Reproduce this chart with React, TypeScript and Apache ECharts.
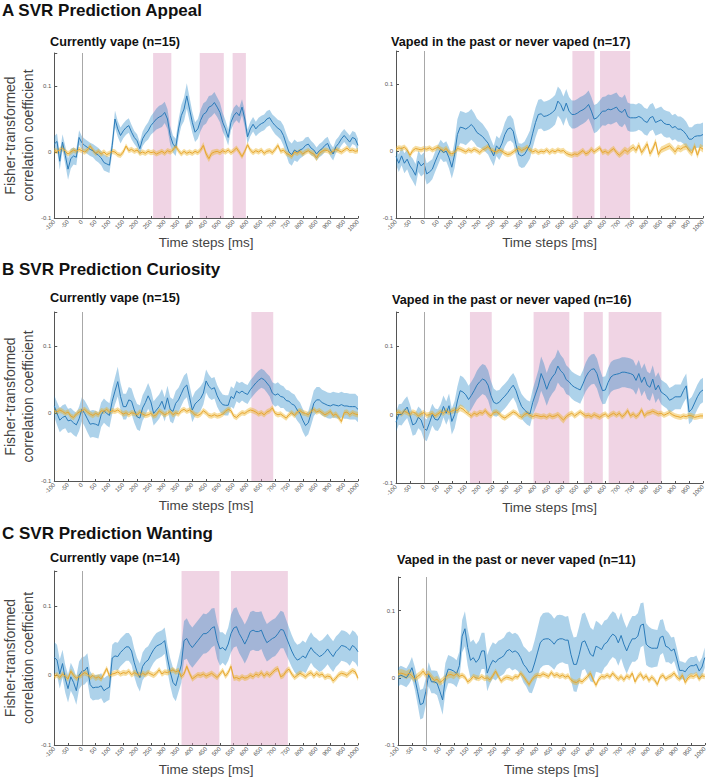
import React, { useEffect, useRef } from "react";
import * as echarts from "echarts";

const timeSteps = [
  -100, -90, -80, -70, -60, -50, -40, -30, -20, -10, 0,
  10, 20, 30, 40, 50, 60, 70, 80, 90, 100,
  110, 120, 130, 140, 150, 160, 170, 180, 190, 200,
  210, 220, 230, 240, 250, 260, 270, 280, 290, 300,
  310, 320, 330, 340, 350, 360, 370, 380, 390, 400,
  410, 420, 430, 440, 450, 460, 470, 480, 490, 500,
  510, 520, 530, 540, 550, 560, 570, 580, 590, 600,
  610, 620, 630, 640, 650, 660, 670, 680, 690, 700,
  710, 720, 730, 740, 750, 760, 770, 780, 790, 800,
  810, 820, 830, 840, 850, 860, 870, 880, 890, 900,
  910, 920, 930, 940, 950, 960, 970, 980, 990, 1000,
];

const yTicks = [-0.1, 0, 0.1];

// ---------- A: Appeal, currently vape (n=15) ----------
const appealVapeBlue = [
  0.012, 0.016, -0.014, 0.015, -0.005, -0.026, -0.010, -0.006, -0.008, 0.022, 0.014,
  0.010, 0.007, 0.004, 0.002, -0.002, -0.005, -0.009, -0.016, -0.018, -0.020,
  0.010, 0.050, 0.035, 0.025, 0.032, 0.037, 0.040, 0.030, 0.022, 0.017,
  0.005, 0.020, 0.027, 0.032, 0.040, 0.045, 0.050, 0.053, 0.055, 0.060,
  0.050, 0.025, 0.012, 0.007, 0.035, 0.055, 0.065, 0.085, 0.065, 0.045,
  0.030, 0.035, 0.048, 0.057, 0.060, 0.068, 0.070, 0.075, 0.068, 0.060,
  0.045, 0.035, 0.022, 0.045, 0.055, 0.060, 0.055, 0.068, 0.050, 0.023,
  0.035, 0.042, 0.035, 0.040, 0.043, 0.045, 0.050, 0.052, 0.045, 0.040,
  0.036, 0.033, 0.025, 0.012, 0.000, -0.004, 0.003, 0.000, 0.003, 0.005,
  0.010, 0.012, 0.006, 0.003, -0.003, 0.002, 0.005, 0.010, 0.013, 0.003,
  -0.003, 0.008, 0.013, 0.020, 0.025, 0.020, 0.015, 0.022, 0.020, 0.010,
];
const appealVapeBlueSem = [
  0.012, 0.012, 0.013, 0.012, 0.014, 0.016, 0.015, 0.013, 0.012, 0.011, 0.010,
  0.010, 0.010, 0.010, 0.010, 0.011, 0.011, 0.011, 0.012, 0.012, 0.012,
  0.012, 0.013, 0.012, 0.012, 0.011, 0.011, 0.011, 0.011, 0.010, 0.010,
  0.010, 0.011, 0.012, 0.013, 0.014, 0.015, 0.016, 0.017, 0.017, 0.016,
  0.015, 0.014, 0.013, 0.013, 0.014, 0.016, 0.018, 0.019, 0.018, 0.016,
  0.015, 0.015, 0.016, 0.017, 0.017, 0.017, 0.016, 0.016, 0.015, 0.015,
  0.014, 0.013, 0.012, 0.012, 0.012, 0.012, 0.012, 0.012, 0.012, 0.011,
  0.011, 0.011, 0.011, 0.012, 0.012, 0.012, 0.012, 0.012, 0.012, 0.013,
  0.013, 0.014, 0.015, 0.016, 0.017, 0.017, 0.016, 0.015, 0.013, 0.012,
  0.012, 0.011, 0.011, 0.010, 0.010, 0.010, 0.010, 0.010, 0.010, 0.010,
  0.010, 0.010, 0.010, 0.010, 0.010, 0.010, 0.010, 0.010, 0.010, 0.010,
];
const appealVapeOrange = [
  0.002, 0.001, 0.003, 0.006, 0.001, -0.003, 0.000, 0.003, 0.001, 0.004, 0.002,
  0.000, 0.003, 0.009, 0.003, -0.002, 0.001, -0.003, 0.000, -0.004, -0.002,
  0.001, 0.000, -0.004, -0.005, 0.000, 0.009, 0.002, 0.004, 0.001, 0.003,
  -0.002, 0.000, -0.002, 0.001, -0.001, 0.000, -0.003, -0.001, 0.001, -0.002,
  0.002, 0.000, 0.003, 0.009, 0.002, -0.003, 0.001, -0.002, 0.000, -0.002,
  0.001, -0.001, 0.003, 0.010, -0.003, -0.010, -0.002, 0.000, 0.001, -0.001,
  0.002, 0.000, 0.003, -0.001, 0.002, 0.006, 0.000, -0.007, 0.001, 0.011,
  0.003, -0.001, 0.002, 0.000, 0.003, -0.002, 0.001, 0.002, -0.001, 0.004,
  0.010, 0.001, 0.003, -0.002, -0.004, -0.007, 0.000, -0.002, 0.001, -0.003,
  0.000, 0.002, -0.001, -0.003, -0.009, -0.002, 0.001, 0.003, 0.002, -0.001,
  0.001, 0.004, 0.002, 0.000, 0.003, 0.006, 0.002, 0.003, 0.001, 0.002,
];
const appealVapeOrangeSem = [
  0.004, 0.004, 0.004, 0.005, 0.004, 0.004, 0.004, 0.004, 0.004, 0.004, 0.004,
  0.004, 0.004, 0.004, 0.004, 0.004, 0.004, 0.004, 0.004, 0.004, 0.004,
  0.004, 0.004, 0.004, 0.004, 0.004, 0.004, 0.004, 0.004, 0.004, 0.004,
  0.004, 0.004, 0.004, 0.004, 0.004, 0.004, 0.004, 0.004, 0.004, 0.004,
  0.004, 0.004, 0.004, 0.004, 0.004, 0.004, 0.004, 0.004, 0.004, 0.004,
  0.004, 0.004, 0.004, 0.005, 0.005, 0.005, 0.005, 0.004, 0.004, 0.004,
  0.004, 0.004, 0.004, 0.004, 0.004, 0.004, 0.004, 0.004, 0.004, 0.004,
  0.004, 0.004, 0.004, 0.004, 0.004, 0.004, 0.004, 0.004, 0.004, 0.004,
  0.004, 0.004, 0.004, 0.004, 0.004, 0.004, 0.004, 0.004, 0.004, 0.004,
  0.004, 0.004, 0.004, 0.005, 0.005, 0.005, 0.004, 0.004, 0.004, 0.004,
  0.004, 0.004, 0.004, 0.004, 0.004, 0.004, 0.004, 0.004, 0.004, 0.004,
];
const appealVapeSig = [[258, 324], [427, 514], [546, 594]];

// ---------- A: Appeal, vaped in the past or never vaped (n=17) ----------
const appealPastBlue = [
  -0.008, -0.018, -0.007, -0.018, -0.012, -0.022, -0.028, -0.036, -0.015, -0.022, -0.018,
  -0.034, -0.031, -0.027, -0.016, -0.006, 0.003, -0.002, 0.000, -0.010, -0.024,
  -0.005, 0.025, 0.036, 0.035, 0.033, 0.036, 0.040, 0.035, 0.028, 0.025,
  0.022, 0.017, 0.012, 0.002, -0.007, 0.008, 0.003, 0.012, 0.025, 0.033,
  0.035, 0.030, 0.010, -0.005, -0.007, -0.005, 0.002, 0.010, 0.027, 0.043,
  0.055, 0.056, 0.052, 0.053, 0.055, 0.058, 0.062, 0.075, 0.070, 0.060,
  0.072, 0.060, 0.055, 0.055, 0.057, 0.060, 0.062, 0.065, 0.070, 0.060,
  0.048, 0.050, 0.055, 0.060, 0.060, 0.063, 0.062, 0.064, 0.066, 0.060,
  0.058, 0.063, 0.052, 0.050, 0.050, 0.050, 0.052, 0.050, 0.045, 0.043,
  0.050, 0.052, 0.043, 0.045, 0.047, 0.042, 0.040, 0.040, 0.035, 0.037,
  0.033, 0.033, 0.030, 0.025, 0.018, 0.018, 0.022, 0.023, 0.023, 0.025,
];
const appealPastBlueSem = [
  0.012, 0.013, 0.014, 0.015, 0.015, 0.016, 0.017, 0.017, 0.016, 0.016, 0.016,
  0.016, 0.016, 0.015, 0.015, 0.015, 0.014, 0.014, 0.015, 0.016, 0.017,
  0.020, 0.023, 0.024, 0.024, 0.024, 0.023, 0.023, 0.022, 0.021, 0.020,
  0.019, 0.018, 0.017, 0.016, 0.015, 0.015, 0.016, 0.017, 0.018, 0.019,
  0.019, 0.018, 0.017, 0.017, 0.018, 0.019, 0.020, 0.021, 0.022, 0.022,
  0.022, 0.022, 0.022, 0.022, 0.022, 0.022, 0.022, 0.022, 0.022, 0.022,
  0.021, 0.021, 0.021, 0.021, 0.021, 0.021, 0.021, 0.021, 0.021, 0.021,
  0.021, 0.021, 0.021, 0.021, 0.022, 0.022, 0.022, 0.022, 0.022, 0.022,
  0.022, 0.022, 0.021, 0.021, 0.021, 0.020, 0.020, 0.020, 0.020, 0.020,
  0.020, 0.020, 0.020, 0.020, 0.020, 0.020, 0.020, 0.019, 0.019, 0.019,
  0.019, 0.019, 0.019, 0.019, 0.018, 0.018, 0.018, 0.018, 0.018, 0.018,
];
const appealPastOrange = [
  0.003, 0.005, 0.004, 0.006, 0.002, -0.006, 0.001, 0.004, 0.003, 0.002, 0.004,
  0.003, 0.005, 0.002, 0.004, 0.006, 0.003, 0.001, 0.004, -0.002, -0.004,
  -0.002, 0.004, 0.003, 0.001, -0.001, 0.002, 0.000, 0.003, 0.001, -0.002,
  0.002, 0.004, 0.007, 0.002, 0.000, -0.001, 0.002, 0.000, -0.003, -0.005,
  -0.004, -0.001, 0.002, 0.004, 0.001, 0.003, 0.006, 0.002, -0.001, 0.001,
  -0.002, 0.000, -0.001, 0.002, -0.002, 0.001, -0.001, 0.002, 0.000, 0.001,
  -0.003, -0.005, -0.006, -0.004, -0.005, -0.002, 0.001, -0.004, -0.002, 0.003,
  -0.001, 0.002, 0.005, -0.002, 0.000, -0.003, 0.001, 0.004, -0.002, -0.006,
  -0.002, 0.002, -0.001, 0.003, 0.006, 0.001, 0.009, -0.002, 0.004, 0.011,
  -0.004, 0.003, 0.014, -0.005, 0.002, 0.004, 0.006, 0.008, 0.004, -0.001,
  0.005, 0.003, 0.006, 0.007, 0.001, -0.003, 0.008, -0.006, 0.006, 0.003,
];
const appealPastOrangeSem = [
  0.004, 0.004, 0.004, 0.004, 0.004, 0.004, 0.004, 0.004, 0.004, 0.004, 0.004,
  0.004, 0.004, 0.004, 0.004, 0.004, 0.004, 0.004, 0.004, 0.004, 0.004,
  0.004, 0.004, 0.004, 0.004, 0.004, 0.004, 0.004, 0.004, 0.004, 0.004,
  0.004, 0.004, 0.004, 0.004, 0.004, 0.004, 0.004, 0.004, 0.004, 0.004,
  0.004, 0.004, 0.004, 0.004, 0.004, 0.004, 0.004, 0.004, 0.004, 0.004,
  0.004, 0.004, 0.004, 0.004, 0.004, 0.004, 0.004, 0.004, 0.004, 0.004,
  0.004, 0.004, 0.004, 0.004, 0.004, 0.004, 0.004, 0.004, 0.004, 0.004,
  0.004, 0.004, 0.004, 0.004, 0.004, 0.004, 0.004, 0.004, 0.004, 0.004,
  0.005, 0.005, 0.005, 0.005, 0.005, 0.005, 0.005, 0.005, 0.005, 0.005,
  0.005, 0.005, 0.005, 0.005, 0.005, 0.005, 0.005, 0.005, 0.005, 0.005,
  0.005, 0.005, 0.005, 0.005, 0.005, 0.005, 0.005, 0.005, 0.005, 0.005,
];
const appealPastSig = [[532, 611], [631, 739]];

// ---------- B: Curiosity, currently vape (n=15) ----------
const curiosityVapeBlue = [
  0.011, 0.000, -0.010, -0.006, -0.004, -0.011, -0.010, -0.014, -0.017, -0.008, 0.006,
  0.000, -0.008, -0.016, -0.015, -0.016, -0.018, -0.002, 0.004, 0.000, -0.003,
  0.018, 0.033, 0.047, 0.025, 0.010, 0.010, 0.020, 0.018, 0.005, -0.005,
  -0.007, 0.008, 0.016, 0.026, 0.017, 0.000, 0.005, 0.010, 0.018, 0.006,
  0.023, 0.006, 0.003, 0.015, 0.020, 0.029, 0.038, 0.042, 0.024, 0.005,
  0.014, 0.018, 0.022, 0.030, 0.048, 0.040, 0.036, 0.038, 0.026, 0.018,
  0.013, 0.012, 0.012, 0.025, 0.022, 0.033, 0.030, 0.033, 0.030, 0.028,
  0.035, 0.040, 0.045, 0.049, 0.052, 0.050, 0.045, 0.040, 0.030, 0.027,
  0.029, 0.025, 0.024, 0.019, 0.018, 0.014, 0.012, 0.005, 0.000, -0.010,
  -0.018, -0.014, 0.000, 0.015, 0.020, 0.020, 0.016, 0.014, 0.012, 0.011,
  0.013, 0.012, 0.011, 0.013, 0.011, 0.011, 0.010, 0.010, 0.010, 0.006,
];
const curiosityVapeBlueSem = [
  0.016, 0.017, 0.018, 0.018, 0.018, 0.018, 0.018, 0.018, 0.018, 0.018, 0.018,
  0.019, 0.020, 0.020, 0.020, 0.020, 0.019, 0.018, 0.018, 0.018, 0.018,
  0.019, 0.020, 0.022, 0.020, 0.019, 0.019, 0.019, 0.019, 0.019, 0.019,
  0.019, 0.019, 0.019, 0.019, 0.018, 0.018, 0.018, 0.018, 0.018, 0.018,
  0.018, 0.018, 0.018, 0.018, 0.018, 0.018, 0.018, 0.018, 0.018, 0.018,
  0.018, 0.018, 0.018, 0.017, 0.017, 0.017, 0.016, 0.016, 0.016, 0.016,
  0.015, 0.015, 0.015, 0.015, 0.015, 0.015, 0.015, 0.014, 0.014, 0.014,
  0.014, 0.014, 0.014, 0.014, 0.014, 0.014, 0.014, 0.015, 0.016, 0.017,
  0.017, 0.017, 0.016, 0.016, 0.016, 0.016, 0.016, 0.016, 0.016, 0.017,
  0.017, 0.017, 0.018, 0.019, 0.019, 0.019, 0.019, 0.019, 0.019, 0.019,
  0.019, 0.019, 0.019, 0.019, 0.019, 0.019, 0.019, 0.019, 0.019, 0.019,
];
const curiosityVapeOrange = [
  0.004, 0.002, 0.005, 0.003, 0.000, 0.002, -0.004, -0.006, -0.001, 0.002, 0.004,
  0.006, 0.002, -0.001, -0.003, 0.000, -0.002, 0.004, 0.003, 0.006, 0.002,
  0.004, 0.003, 0.005, 0.002, -0.001, 0.001, -0.002, 0.001, 0.000, -0.002,
  0.002, -0.001, -0.003, -0.002, 0.000, -0.004, -0.002, 0.004, 0.001, -0.002,
  0.000, 0.003, -0.002, 0.001, -0.001, 0.004, 0.006, 0.003, 0.005, 0.002,
  -0.002, -0.003, -0.001, 0.004, 0.001, -0.003, -0.004, -0.002, -0.004, -0.003,
  -0.001, 0.003, 0.006, 0.004, -0.004, -0.006, -0.002, 0.001, 0.000, 0.003,
  0.005, 0.004, 0.002, -0.001, 0.001, -0.002, 0.002, 0.004, 0.008, 0.000,
  -0.002, -0.001, -0.004, -0.007, -0.002, 0.001, -0.003, 0.002, 0.004, 0.001,
  0.000, -0.002, 0.003, 0.006, 0.002, 0.004, 0.001, -0.002, 0.000, 0.003,
  -0.003, -0.001, -0.006, -0.012, 0.001, 0.002, -0.002, 0.001, -0.001, -0.002,
];
const curiosityVapeOrangeSem = [
  0.004, 0.004, 0.004, 0.004, 0.004, 0.004, 0.004, 0.004, 0.004, 0.004, 0.004,
  0.004, 0.004, 0.004, 0.004, 0.004, 0.004, 0.004, 0.004, 0.004, 0.004,
  0.004, 0.004, 0.004, 0.004, 0.004, 0.004, 0.004, 0.004, 0.004, 0.004,
  0.004, 0.004, 0.004, 0.004, 0.004, 0.004, 0.004, 0.004, 0.004, 0.004,
  0.004, 0.004, 0.004, 0.004, 0.004, 0.004, 0.004, 0.004, 0.004, 0.004,
  0.004, 0.004, 0.004, 0.004, 0.004, 0.004, 0.004, 0.004, 0.004, 0.004,
  0.004, 0.004, 0.004, 0.004, 0.004, 0.004, 0.004, 0.004, 0.004, 0.004,
  0.004, 0.004, 0.004, 0.004, 0.004, 0.004, 0.004, 0.004, 0.004, 0.004,
  0.004, 0.004, 0.004, 0.004, 0.004, 0.004, 0.004, 0.004, 0.004, 0.004,
  0.004, 0.004, 0.004, 0.004, 0.004, 0.004, 0.004, 0.004, 0.004, 0.004,
  0.004, 0.004, 0.004, 0.004, 0.004, 0.004, 0.004, 0.004, 0.004, 0.004,
];
const curiosityVapeSig = [[614, 693]];

// ---------- B: Curiosity, vaped in the past or never vaped (n=16) ----------
const curiosityPastBlue = [
  -0.011, 0.000, 0.000, 0.006, 0.011, -0.001, -0.015, -0.013, -0.004, -0.008, -0.020,
  -0.023, -0.012, 0.000, -0.007, -0.008, -0.001, 0.012, 0.002, 0.013, -0.010,
  0.000, 0.020, 0.035, 0.033, 0.029, 0.022, 0.028, 0.035, 0.043, 0.048,
  0.052, 0.050, 0.043, 0.028, 0.018, 0.016, 0.018, 0.023, 0.027, 0.032,
  0.038, 0.043, 0.035, 0.022, 0.012, 0.007, 0.003, 0.001, 0.018, 0.030,
  0.042, 0.060, 0.050, 0.037, 0.048, 0.055, 0.060, 0.071, 0.064, 0.060,
  0.051, 0.048, 0.043, 0.040, 0.038, 0.036, 0.045, 0.055, 0.062, 0.066,
  0.067, 0.060, 0.046, 0.035, 0.036, 0.047, 0.055, 0.058, 0.059, 0.060,
  0.062, 0.062, 0.061, 0.060, 0.058, 0.050, 0.060, 0.047, 0.055, 0.043,
  0.040, 0.052, 0.036, 0.043, 0.033, 0.030, 0.027, 0.021, 0.023, 0.026,
  0.026, 0.026, 0.035, 0.042, 0.004, 0.008, 0.017, 0.026, 0.033, 0.036,
];
const curiosityPastBlueSem = [
  0.014, 0.015, 0.016, 0.016, 0.016, 0.016, 0.016, 0.016, 0.016, 0.016, 0.016,
  0.016, 0.016, 0.016, 0.016, 0.016, 0.016, 0.016, 0.017, 0.018, 0.019,
  0.020, 0.021, 0.022, 0.022, 0.021, 0.020, 0.020, 0.020, 0.021, 0.022,
  0.022, 0.022, 0.022, 0.021, 0.020, 0.019, 0.018, 0.018, 0.018, 0.018,
  0.018, 0.018, 0.018, 0.018, 0.018, 0.018, 0.018, 0.018, 0.019, 0.021,
  0.023, 0.025, 0.025, 0.024, 0.024, 0.024, 0.024, 0.024, 0.023, 0.022,
  0.021, 0.020, 0.020, 0.020, 0.020, 0.020, 0.020, 0.021, 0.022, 0.022,
  0.022, 0.022, 0.021, 0.020, 0.020, 0.021, 0.022, 0.022, 0.022, 0.022,
  0.022, 0.022, 0.022, 0.022, 0.022, 0.021, 0.020, 0.020, 0.020, 0.020,
  0.020, 0.020, 0.019, 0.019, 0.018, 0.018, 0.018, 0.018, 0.018, 0.018,
  0.018, 0.018, 0.018, 0.018, 0.018, 0.018, 0.018, 0.018, 0.018, 0.018,
];
const curiosityPastOrange = [
  0.002, 0.004, 0.001, 0.005, 0.003, 0.000, 0.004, 0.002, -0.002, 0.001, 0.003,
  -0.001, 0.000, 0.002, -0.002, 0.001, 0.004, 0.002, 0.006, 0.003, 0.005,
  0.007, 0.006, 0.010, 0.008, 0.004, 0.001, -0.002, 0.002, 0.000, 0.003,
  0.002, 0.006, 0.001, -0.002, 0.003, 0.004, 0.001, -0.003, -0.005, -0.002,
  0.001, 0.004, 0.002, -0.002, -0.004, 0.000, 0.002, -0.001, -0.003, -0.001,
  -0.002, -0.003, -0.002, -0.004, -0.001, -0.003, -0.002, 0.000, -0.004, -0.008,
  -0.003, 0.000, 0.002, -0.002, 0.001, 0.004, 0.001, -0.002, -0.001, -0.003,
  0.000, -0.002, -0.004, -0.001, 0.001, -0.003, 0.000, 0.002, -0.001, 0.002,
  -0.003, 0.000, 0.006, -0.002, 0.001, -0.003, 0.000, 0.007, -0.002, 0.002,
  0.003, 0.005, 0.003, 0.001, 0.002, -0.001, 0.001, 0.003, 0.000, -0.002,
  -0.003, -0.004, -0.002, -0.003, -0.001, -0.002, -0.004, -0.003, -0.002, -0.002,
];
const curiosityPastOrangeSem = [
  0.004, 0.004, 0.004, 0.004, 0.004, 0.004, 0.004, 0.004, 0.004, 0.004, 0.004,
  0.004, 0.004, 0.004, 0.004, 0.004, 0.004, 0.004, 0.004, 0.004, 0.004,
  0.004, 0.004, 0.005, 0.005, 0.004, 0.004, 0.004, 0.004, 0.004, 0.004,
  0.004, 0.004, 0.004, 0.004, 0.004, 0.004, 0.004, 0.004, 0.004, 0.004,
  0.004, 0.004, 0.004, 0.004, 0.004, 0.004, 0.004, 0.004, 0.004, 0.004,
  0.004, 0.004, 0.004, 0.004, 0.004, 0.004, 0.004, 0.004, 0.005, 0.005,
  0.004, 0.004, 0.004, 0.004, 0.004, 0.004, 0.004, 0.004, 0.004, 0.004,
  0.004, 0.004, 0.004, 0.004, 0.004, 0.004, 0.004, 0.004, 0.004, 0.004,
  0.004, 0.004, 0.004, 0.004, 0.004, 0.004, 0.004, 0.004, 0.004, 0.004,
  0.004, 0.004, 0.004, 0.004, 0.004, 0.004, 0.004, 0.004, 0.004, 0.004,
  0.004, 0.004, 0.004, 0.004, 0.004, 0.004, 0.004, 0.004, 0.004, 0.004,
];
const curiosityPastSig = [[165, 243], [393, 521], [573, 641], [662, 851]];

// ---------- C: Wanting, currently vape (n=14) ----------
const wantingVapeBlue = [
  0.026, 0.022, 0.002, 0.017, -0.005, -0.019, -0.002, -0.010, -0.022, 0.000, 0.006,
  0.007, 0.012, -0.013, -0.018, -0.017, -0.017, -0.015, -0.022, -0.019, -0.017,
  0.025, 0.028, 0.027, 0.033, 0.037, 0.041, 0.041, 0.035, 0.018, 0.005,
  -0.003, 0.013, 0.019, 0.022, 0.030, 0.037, 0.042, 0.044, 0.046, 0.050,
  0.025, 0.005, -0.010, -0.015, 0.000, 0.015, 0.050, 0.053, 0.045, 0.040,
  0.045, 0.050, 0.055, 0.060, 0.060, 0.063, 0.068, 0.070, 0.050, 0.038,
  0.040, 0.036, 0.045, 0.060, 0.068, 0.070, 0.060, 0.053, 0.045, 0.053,
  0.063, 0.065, 0.063, 0.063, 0.065, 0.055, 0.047, 0.050, 0.053, 0.055,
  0.060, 0.066, 0.065, 0.055, 0.045, 0.035, 0.027, 0.022, 0.024, 0.028,
  0.025, 0.033, 0.040, 0.034, 0.031, 0.027, 0.029, 0.033, 0.038, 0.032,
  0.027, 0.034, 0.038, 0.043, 0.042, 0.040, 0.036, 0.043, 0.040, 0.034,
];
const wantingVapeBlueSem = [
  0.022, 0.022, 0.021, 0.020, 0.020, 0.020, 0.020, 0.020, 0.020, 0.020, 0.020,
  0.020, 0.020, 0.019, 0.018, 0.018, 0.018, 0.018, 0.018, 0.018, 0.018,
  0.019, 0.020, 0.020, 0.020, 0.020, 0.020, 0.020, 0.020, 0.020, 0.020,
  0.020, 0.020, 0.020, 0.020, 0.019, 0.019, 0.019, 0.019, 0.019, 0.019,
  0.019, 0.020, 0.021, 0.022, 0.024, 0.026, 0.028, 0.029, 0.029, 0.029,
  0.029, 0.029, 0.029, 0.029, 0.028, 0.028, 0.028, 0.027, 0.026, 0.024,
  0.022, 0.022, 0.024, 0.027, 0.028, 0.028, 0.028, 0.028, 0.028, 0.028,
  0.028, 0.028, 0.028, 0.028, 0.027, 0.027, 0.027, 0.027, 0.027, 0.027,
  0.027, 0.027, 0.026, 0.025, 0.024, 0.023, 0.022, 0.022, 0.022, 0.022,
  0.022, 0.022, 0.022, 0.022, 0.022, 0.022, 0.022, 0.022, 0.022, 0.022,
  0.022, 0.022, 0.022, 0.022, 0.022, 0.022, 0.022, 0.022, 0.022, 0.022,
];
const wantingVapeOrange = [
  -0.002, 0.001, -0.003, 0.002, -0.001, -0.005, 0.006, 0.000, -0.004, -0.002, 0.001,
  0.004, 0.002, -0.003, 0.000, -0.004, -0.002, -0.005, 0.002, 0.010, -0.001,
  0.002, 0.003, 0.005, 0.002, 0.004, 0.003, 0.006, 0.001, 0.004, 0.002,
  0.000, 0.003, 0.001, 0.004, 0.002, 0.000, 0.003, 0.008, 0.002, 0.005,
  0.004, 0.006, 0.008, 0.005, 0.007, -0.002, 0.002, 0.013, 0.003, -0.005,
  -0.002, 0.001, 0.000, 0.002, -0.001, 0.001, 0.003, 0.000, -0.003, 0.002,
  0.007, -0.001, 0.004, 0.013, -0.004, -0.003, -0.005, -0.002, -0.004, -0.003,
  0.000, -0.002, 0.002, 0.000, 0.004, -0.001, 0.003, 0.000, 0.004, 0.008,
  0.010, -0.002, 0.000, 0.006, 0.009, 0.002, -0.003, 0.000, 0.003, 0.001,
  -0.002, 0.002, 0.004, -0.001, 0.003, 0.000, 0.002, -0.003, -0.001, -0.002,
  -0.008, -0.004, 0.001, 0.003, 0.002, 0.000, 0.004, 0.007, 0.005, -0.004,
];
const wantingVapeOrangeSem = [
  0.004, 0.004, 0.004, 0.004, 0.004, 0.004, 0.004, 0.004, 0.004, 0.004, 0.004,
  0.004, 0.004, 0.004, 0.004, 0.004, 0.004, 0.004, 0.004, 0.004, 0.004,
  0.004, 0.004, 0.004, 0.004, 0.004, 0.004, 0.004, 0.004, 0.004, 0.004,
  0.004, 0.004, 0.004, 0.004, 0.004, 0.004, 0.004, 0.004, 0.004, 0.004,
  0.004, 0.004, 0.004, 0.004, 0.004, 0.004, 0.004, 0.004, 0.004, 0.004,
  0.004, 0.004, 0.004, 0.004, 0.004, 0.004, 0.004, 0.004, 0.004, 0.004,
  0.004, 0.004, 0.004, 0.004, 0.004, 0.004, 0.004, 0.004, 0.004, 0.004,
  0.004, 0.004, 0.004, 0.004, 0.004, 0.004, 0.004, 0.004, 0.004, 0.004,
  0.004, 0.004, 0.004, 0.004, 0.004, 0.004, 0.004, 0.004, 0.004, 0.004,
  0.004, 0.004, 0.004, 0.004, 0.004, 0.004, 0.004, 0.004, 0.004, 0.004,
  0.004, 0.004, 0.004, 0.004, 0.004, 0.004, 0.004, 0.004, 0.004, 0.004,
];
const wantingVapeSig = [[361, 498], [540, 746]];

// ---------- C: Wanting, vaped in the past or never vaped (n=11) ----------
const wantingPastBlue = [
  0.001, 0.004, 0.002, 0.000, 0.006, 0.015, 0.000, -0.020, -0.040, -0.038, -0.020,
  0.005, -0.006, -0.006, -0.008, -0.020, -0.033, 0.000, 0.013, 0.012, 0.010,
  0.006, 0.018, 0.062, 0.073, 0.045, 0.026, 0.030, 0.023, 0.028, 0.040,
  0.040, 0.007, 0.018, 0.026, 0.023, 0.028, 0.030, 0.033, 0.040, 0.042,
  0.038, 0.040, 0.037, 0.030, 0.020, 0.015, 0.008, 0.009, 0.022, 0.037,
  0.052, 0.057, 0.058, 0.058, 0.055, 0.050, 0.056, 0.058, 0.058, 0.056,
  0.056, 0.035, 0.020, 0.020, 0.035, 0.053, 0.055, 0.045, 0.035, 0.032,
  0.047, 0.045, 0.042, 0.050, 0.053, 0.060, 0.065, 0.062, 0.052, 0.063,
  0.050, 0.040, 0.050, 0.058, 0.058, 0.062, 0.078, 0.080, 0.050, 0.046,
  0.044, 0.044, 0.044, 0.060, 0.062, 0.047, 0.045, 0.040, 0.043, 0.028,
  0.011, 0.011, 0.009, 0.015, 0.018, 0.018, 0.020, 0.010, 0.016, 0.030,
];
const wantingPastBlueSem = [
  0.014, 0.014, 0.014, 0.014, 0.015, 0.016, 0.017, 0.019, 0.022, 0.022, 0.020,
  0.018, 0.017, 0.017, 0.018, 0.020, 0.022, 0.022, 0.021, 0.020, 0.020,
  0.020, 0.021, 0.024, 0.026, 0.027, 0.027, 0.027, 0.027, 0.027, 0.027,
  0.027, 0.027, 0.027, 0.027, 0.027, 0.027, 0.027, 0.027, 0.027, 0.027,
  0.027, 0.027, 0.027, 0.027, 0.027, 0.028, 0.030, 0.032, 0.034, 0.036,
  0.038, 0.039, 0.039, 0.039, 0.039, 0.038, 0.037, 0.036, 0.035, 0.035,
  0.036, 0.038, 0.040, 0.041, 0.042, 0.042, 0.042, 0.041, 0.040, 0.039,
  0.038, 0.037, 0.036, 0.035, 0.034, 0.034, 0.034, 0.034, 0.034, 0.034,
  0.034, 0.034, 0.034, 0.034, 0.034, 0.034, 0.033, 0.032, 0.031, 0.030,
  0.029, 0.028, 0.027, 0.026, 0.025, 0.024, 0.022, 0.020, 0.018, 0.016,
  0.014, 0.013, 0.013, 0.013, 0.013, 0.013, 0.013, 0.013, 0.014, 0.015,
];
const wantingPastOrange = [
  0.005, 0.007, 0.006, 0.004, 0.007, 0.003, -0.002, 0.002, 0.005, 0.010, 0.004,
  0.006, 0.001, -0.004, -0.002, -0.007, -0.004, 0.000, 0.004, 0.005, 0.003,
  0.006, 0.002, 0.004, 0.001, -0.006, -0.003, 0.002, 0.000, -0.001, 0.002,
  -0.001, 0.000, -0.003, 0.003, 0.010, 0.002, -0.005, -0.001, 0.001, 0.000,
  -0.002, 0.002, 0.001, 0.007, 0.002, -0.004, -0.010, -0.003, 0.002, 0.004,
  0.003, 0.006, 0.004, 0.002, 0.008, 0.003, 0.005, 0.002, 0.004, 0.001,
  0.003, -0.003, -0.006, -0.007, -0.004, -0.006, -0.002, 0.002, 0.007, -0.003,
  -0.011, -0.002, 0.002, 0.001, 0.004, 0.001, 0.007, 0.002, -0.002, 0.002,
  -0.003, 0.003, 0.000, 0.007, -0.006, 0.002, 0.006, -0.001, 0.003, -0.004,
  0.001, -0.003, -0.010, 0.001, 0.004, -0.002, 0.001, 0.003, 0.007, 0.001,
  -0.002, 0.004, -0.007, 0.000, 0.003, 0.002, 0.005, -0.002, 0.003, 0.002,
];
const wantingPastOrangeSem = [
  0.006, 0.006, 0.006, 0.006, 0.006, 0.006, 0.005, 0.005, 0.005, 0.005, 0.005,
  0.005, 0.005, 0.005, 0.005, 0.005, 0.005, 0.005, 0.005, 0.005, 0.005,
  0.004, 0.004, 0.004, 0.004, 0.004, 0.004, 0.004, 0.004, 0.004, 0.004,
  0.004, 0.004, 0.004, 0.004, 0.004, 0.004, 0.004, 0.004, 0.004, 0.004,
  0.004, 0.004, 0.004, 0.004, 0.004, 0.004, 0.004, 0.004, 0.004, 0.004,
  0.004, 0.004, 0.004, 0.004, 0.004, 0.004, 0.004, 0.004, 0.004, 0.004,
  0.004, 0.004, 0.004, 0.004, 0.004, 0.004, 0.004, 0.004, 0.004, 0.004,
  0.004, 0.004, 0.004, 0.004, 0.004, 0.004, 0.004, 0.004, 0.004, 0.004,
  0.004, 0.004, 0.004, 0.004, 0.004, 0.004, 0.004, 0.004, 0.004, 0.004,
  0.004, 0.004, 0.004, 0.004, 0.004, 0.004, 0.004, 0.004, 0.004, 0.004,
  0.004, 0.004, 0.004, 0.004, 0.004, 0.004, 0.004, 0.004, 0.004, 0.004,
];
const wantingPastSig: number[][] = [];

// ---------- styling ----------
const FONT = '"Liberation Sans", Arial, Helvetica, sans-serif';
const BLUE = "#2b7bb9";
const BLUE_BAND = "rgba(0, 114, 189, 0.32)";
const ORANGE = "#e6a52e";
const ORANGE_BAND = "rgba(237, 177, 32, 0.42)";
const PINK = "rgba(222, 160, 196, 0.45)";
const AXIS_COLOR = "#555";
const ZERO_LINE = "#a8a8a8";
const Y_TITLE = "Fisher-transformed\ncorrelation coefficient";
const X_TITLE = "Time steps [ms]";

const panels = [
  { subtitle: "Currently vape (n=15)", blue: appealVapeBlue, blueSem: appealVapeBlueSem, orange: appealVapeOrange, orangeSem: appealVapeOrangeSem, sig: appealVapeSig,
    grid: { left: 52, top: 53, width: 306, height: 165 }, sub: { left: 50, top: 35 }, yTitle: true },
  { subtitle: "Vaped in the past or never vaped (n=17)", blue: appealPastBlue, blueSem: appealPastBlueSem, orange: appealPastOrange, orangeSem: appealPastOrangeSem, sig: appealPastSig,
    grid: { left: 396, top: 51, width: 307, height: 167 }, sub: { left: 391, top: 35 }, yTitle: false },
  { subtitle: "Currently vape (n=15)", blue: curiosityVapeBlue, blueSem: curiosityVapeBlueSem, orange: curiosityVapeOrange, orangeSem: curiosityVapeOrangeSem, sig: curiosityVapeSig,
    grid: { left: 52, top: 312, width: 306, height: 169 }, sub: { left: 50, top: 291 }, yTitle: true },
  { subtitle: "Vaped in the past or never vaped (n=16)", blue: curiosityPastBlue, blueSem: curiosityPastBlueSem, orange: curiosityPastOrange, orangeSem: curiosityPastOrangeSem, sig: curiosityPastSig,
    grid: { left: 396, top: 312, width: 307, height: 171 }, sub: { left: 392, top: 293 }, yTitle: false },
  { subtitle: "Currently vape (n=14)", blue: wantingVapeBlue, blueSem: wantingVapeBlueSem, orange: wantingVapeOrange, orangeSem: wantingVapeOrangeSem, sig: wantingVapeSig,
    grid: { left: 51, top: 571, width: 307, height: 174 }, sub: { left: 50, top: 551 }, yTitle: true },
  { subtitle: "Vaped in the past or never vaped (n=11)", blue: wantingPastBlue, blueSem: wantingPastBlueSem, orange: wantingPastOrange, orangeSem: wantingPastOrangeSem, sig: wantingPastSig,
    grid: { left: 398, top: 577, width: 308, height: 168 }, sub: { left: 397, top: 553 }, yTitle: false },
];

const sections = [
  { text: "A SVR Prediction Appeal", top: 1.5 },
  { text: "B SVR Prediction Curiosity", top: 260.5 },
  { text: "C SVR Prediction Wanting", top: 525 },
];

function bandSeries(i: number, mean: number[], sem: number[], color: string, z: number) {
  return {
    type: "custom",
    xAxisIndex: i,
    yAxisIndex: i,
    z,
    silent: true,
    data: timeSteps.map((t, k) => [t, mean[k]]),
    encode: { x: 0, y: 1 },
    renderItem: (params: any, api: any) => {
      if (params.dataIndex !== 0) return null;
      const upper: number[][] = [];
      const lower: number[][] = [];
      for (let k = 0; k < timeSteps.length; k++) {
        upper.push(api.coord([timeSteps[k], mean[k] + sem[k]]));
        lower.push(api.coord([timeSteps[k], mean[k] - sem[k]]));
      }
      return {
        type: "polygon",
        shape: { points: upper.concat(lower.reverse()) },
        style: { fill: color },
        silent: true,
      };
    },
  };
}

function buildOption() {
  const grid = panels.map((p) => ({ ...p.grid, containLabel: false }));
  const xAxis = panels.map((p, i) => ({
    type: "value",
    gridIndex: i,
    min: -100,
    max: 1000,
    interval: 50,
    name: X_TITLE,
    nameLocation: "middle",
    nameGap: 16,
    nameTextStyle: { fontSize: 13.5, color: "#444", fontFamily: FONT },
    axisLine: { show: true, onZero: false, lineStyle: { color: AXIS_COLOR, width: 1 } },
    axisTick: { show: true, inside: true, length: 2, lineStyle: { color: AXIS_COLOR } },
    axisLabel: {
      rotate: 45,
      fontSize: 6,
      color: "#555",
      margin: 3,
      fontFamily: FONT,
      formatter: (v: number) => String(v),
    },
    splitLine: { show: false },
  }));
  const yAxis = panels.map((p, i) => ({
    type: "value",
    gridIndex: i,
    min: -0.1,
    max: 0.15,
    interval: 0.1,
    name: p.yTitle ? Y_TITLE : "",
    nameLocation: "middle",
    nameRotate: 90,
    nameGap: 13,
    nameTextStyle: { fontSize: 14, color: "#444", lineHeight: 18, fontFamily: FONT },
    axisLine: { show: true, onZero: false, lineStyle: { color: AXIS_COLOR, width: 1 } },
    axisTick: { show: true, inside: true, length: 3, lineStyle: { color: AXIS_COLOR } },
    axisLabel: {
      fontSize: 6,
      color: "#555",
      margin: 3,
      fontFamily: FONT,
      customValues: yTicks,
      formatter: (v: number) => (Math.abs(v) < 1e-9 ? "0" : String(Math.round(v * 10) / 10)),
    },
    splitLine: { show: false },
  }));

  const series: any[] = [];
  panels.forEach((p, i) => {
    series.push({
      type: "line",
      xAxisIndex: i,
      yAxisIndex: i,
      z: 1,
      silent: true,
      showSymbol: false,
      symbol: "none",
      lineStyle: { opacity: 0 },
      data: timeSteps.map((t, k) => [t, p.orange[k]]),
      markArea: {
        silent: true,
        itemStyle: { color: PINK },
        data: p.sig.map(([a, b]) => [{ xAxis: a }, { xAxis: b }]),
      },
      markLine: {
        silent: true,
        symbol: "none",
        label: { show: false },
        lineStyle: { color: ZERO_LINE, width: 1, type: "solid" },
        data: [{ xAxis: 0 }],
      },
    });
    series.push(bandSeries(i, p.blue, p.blueSem, BLUE_BAND, 2));
    series.push(bandSeries(i, p.orange, p.orangeSem, ORANGE_BAND, 3));
    series.push({
      type: "line",
      xAxisIndex: i,
      yAxisIndex: i,
      z: 4,
      silent: true,
      showSymbol: false,
      symbol: "none",
      lineStyle: { color: BLUE, width: 1 },
      data: timeSteps.map((t, k) => [t, p.blue[k]]),
    });
    series.push({
      type: "line",
      xAxisIndex: i,
      yAxisIndex: i,
      z: 5,
      silent: true,
      showSymbol: false,
      symbol: "none",
      lineStyle: { color: ORANGE, width: 1 },
      data: timeSteps.map((t, k) => [t, p.orange[k]]),
    });
  });

  const title: any[] = [
    ...sections.map((s) => ({
      text: s.text,
      left: 2,
      top: s.top,
      padding: 0,
      textStyle: { fontSize: 17, fontWeight: "bold", color: "#111", fontFamily: FONT },
    })),
    ...panels.map((p) => ({
      text: p.subtitle,
      left: p.sub.left,
      top: p.sub.top,
      padding: 0,
      textStyle: { fontSize: 12.7, fontWeight: "bold", color: "#111", fontFamily: FONT },
    })),
  ];

  return {
    animation: false,
    backgroundColor: "#ffffff",
    title,
    grid,
    xAxis,
    yAxis,
    series,
  };
}

export default function App() {
  const ref = useRef<HTMLDivElement | null>(null);
  useEffect(() => {
    if (!ref.current) return;
    const chart = echarts.init(ref.current, undefined, { renderer: "svg" });
    chart.setOption(buildOption() as any);
    return () => chart.dispose();
  }, []);
  return (
    <div
      ref={ref}
      style={{ position: "fixed", left: 0, top: 0, width: 709, height: 780, background: "#fff" }}
    />
  );
}
